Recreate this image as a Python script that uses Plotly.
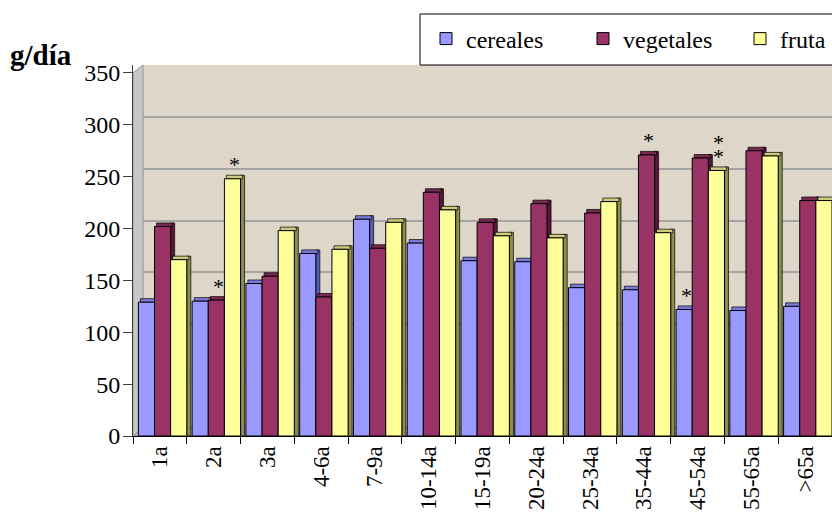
import plotly.graph_objects as go

# ---- data ----
categories = ["1a", "2a", "3a", "4-6a", "7-9a", "10-14a", "15-19a", "20-24a",
              "25-34a", "35-44a", "45-54a", "55-65a", ">65a"]
cereales = [129, 130, 147, 176, 209, 186, 169, 168, 143, 141, 122, 121, 125]
vegetales = [202, 131, 154, 134, 181, 235, 206, 224, 215, 271, 268, 275, 227]
fruta = [170, 248, 198, 180, 206, 218, 193, 191, 226, 196, 256, 270, 227]
series_names = ["cereales", "vegetales", "fruta"]
y_ticks = [0, 50, 100, 150, 200, 250, 300, 350]
# significance marks: (category, series, number of asterisks)
asterisks = [("2a", "vegetales", 1), ("2a", "fruta", 1), ("35-44a", "vegetales", 1),
             ("45-54a", "cereales", 1), ("45-54a", "fruta", 2)]

# ---- style ----
FONT = "Liberation Serif, Times New Roman, serif"
front_col = {"cereales": "#9999ff", "vegetales": "#993366", "fruta": "#ffff99"}
top_col = {"cereales": "#7c7ce0", "vegetales": "#7a2950", "fruta": "#cccc7a"}
side_col = {"cereales": "#5c5cb8", "vegetales": "#561835", "fruta": "#8e8e4c"}
offsets = {"cereales": -0.40, "vegetales": -0.10, "fruta": 0.20}
BW = 0.30        # bar width (category units)
DX = 0.075       # 3D depth horizontally (category units)
DY = 3.4         # 3D depth vertically (value units)
YMAX = 357.7
PW, PH = 699, 371  # plot area size in px

values = {"cereales": cereales, "vegetales": vegetales, "fruta": fruta}

fig = go.Figure()
# invisible trace so the back-wall grid subplot (xy) exists
fig.add_trace(go.Scatter(x=[0.5], y=[0], xaxis="x", yaxis="y", mode="markers",
                         marker=dict(opacity=0), showlegend=False, hoverinfo="skip"))

for name in series_names:
    v = values[name]
    off = offsets[name]
    # side face
    fig.add_trace(go.Bar(x=categories, y=[a + DY for a in v], offset=off + BW, width=DX,
                         xaxis="x2", yaxis="y2",
                         marker=dict(color=side_col[name], line=dict(color="#000000", width=0.7)),
                         showlegend=False, hoverinfo="skip"))
    # top face
    fig.add_trace(go.Bar(x=categories, y=[DY] * len(v), base=v, offset=off + DX / 2, width=BW,
                         xaxis="x2", yaxis="y2",
                         marker=dict(color=top_col[name], line=dict(color="#000000", width=0.7)),
                         showlegend=False, hoverinfo="skip"))
    # front face
    fig.add_trace(go.Bar(x=categories, y=v, offset=off, width=BW, name=name,
                         xaxis="x2", yaxis="y2",
                         marker=dict(color=front_col[name], line=dict(color="#000000", width=1))))

# asterisk annotations
annotations = []
for cat, ser, n in asterisks:
    i = categories.index(cat)
    v = values[ser][i]
    for k in range(n):
        annotations.append(dict(x=i + offsets[ser] + BW / 2 + DX / 2, y=v, xref="x2", yref="y2",
                                text="*", showarrow=False, yanchor="middle",
                                yshift=14 + 14 * (n - 1 - k),
                                font=dict(family=FONT, size=22, color="#000000")))
annotations.append(dict(x=-0.1786, y=1.028, xref="paper", yref="paper", text="<b>g/día</b>",
                        showarrow=False, xanchor="left", yanchor="middle",
                        font=dict(family=FONT, size=29, color="#000000")))

wall_x = 10 / PW
wall_y = 7.5 / PH
top_front = 350 / YMAX
shapes = [
    # back wall
    dict(type="rect", xref="paper", yref="paper", layer="below",
         x0=wall_x, x1=1.05, y0=wall_y, y1=1, fillcolor="#ddd6c9", line=dict(width=0)),
    # floor
    dict(type="path", xref="paper", yref="paper", layer="below",
         path=f"M 0,0 L 1,0 L {1 + wall_x},{wall_y} L {wall_x},{wall_y} Z",
         fillcolor="#c4c4c4", line=dict(color="#8c8c8c", width=1)),
    # left wall
    dict(type="path", xref="paper", yref="paper", layer="below",
         path=f"M 0,0 L {wall_x},{wall_y} L {wall_x},1 L 0,{top_front} Z",
         fillcolor="#c8c8c8", line=dict(color="#909090", width=1)),
    # legend box
    dict(type="rect", xref="paper", yref="paper", x0=(420 - 133) / PW, x1=1.05,
         y0=1.0, y1=(436 - 14) / PH, fillcolor="#ffffff",
         line=dict(color="#000000", width=1), layer="above"),
]

fig.update_layout(
    width=832, height=514,
    margin=dict(l=133, r=0, t=65, b=78, autoexpand=False),
    paper_bgcolor="#ffffff", plot_bgcolor="rgba(0,0,0,0)",
    barmode="overlay",
    font=dict(family=FONT, color="#000000"),
    # grid subplot (back wall)
    xaxis=dict(domain=[wall_x, 1], range=[0, 1], visible=False),
    yaxis=dict(domain=[0, 1], range=[350 - YMAX, 350], tickvals=y_ticks,
               showgrid=True, gridcolor="#a4a4a4", gridwidth=1.5, showticklabels=False,
               ticks="", zeroline=False, showline=False),
    # bar subplot (front axes)
    xaxis2=dict(type="category", domain=[0, 1], anchor="y2", range=[-0.5, 12.5],
                tickson="boundaries", ticks="outside",
                ticklen=7, tickcolor="#000000", showline=True, linecolor="#000000", linewidth=1,
                tickangle=-90, tickfont=dict(family=FONT, size=23, color="#000000"),
                showgrid=False, automargin=False, fixedrange=True),
    yaxis2=dict(domain=[0, 1], anchor="x2", range=[0, YMAX], tickvals=y_ticks,
                ticks="outside", ticklen=9, ticklabelstandoff=-2,
                tickcolor="#404040", showline=True, linecolor="#404040", linewidth=1,
                showgrid=False, zeroline=False,
                tickfont=dict(family=FONT, size=24, color="#000000"), automargin=False),
    legend=dict(orientation="h", x=(426 - 133) / PW, xanchor="left",
                y=(436 - 39) / PH, yanchor="middle", bgcolor="rgba(0,0,0,0)",
                borderwidth=0, entrywidth=112,
                font=dict(family=FONT, size=24, color="#000000")),
    annotations=annotations,
    shapes=shapes,
)

fig.write_html("out.html", config={"displayModeBar": False},
               post_script="document.body.style.margin='0';document.body.style.overflow='hidden';")
